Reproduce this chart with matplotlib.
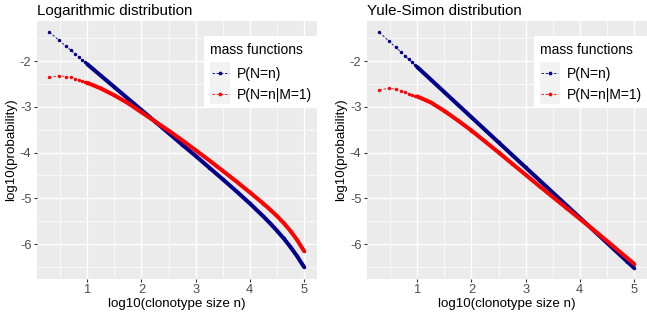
import matplotlib
matplotlib.use("Agg")
import matplotlib.pyplot as plt
from matplotlib.patches import Rectangle
from matplotlib.lines import Line2D

plt.rcParams['font.family'] = ['Liberation Sans', 'DejaVu Sans']

# ---- data ----
log10_n = [0.301, 0.477, 0.602, 0.699, 0.778, 0.845, 0.903, 0.954, 1.0,
           1.25, 1.5, 1.75, 2.0, 2.25, 2.5, 2.75, 3.0, 3.25, 3.5, 3.75,
           4.0, 4.25, 4.375, 4.5, 4.625, 4.75, 4.875, 5.0]

log_blue = [-1.371, -1.547, -1.672, -1.769, -1.848, -1.915, -1.973, -2.024, -2.07,
            -2.32, -2.57, -2.821, -3.071, -3.323, -3.574, -3.827, -4.074, -4.328,
            -4.584, -4.844, -5.113, -5.396, -5.547, -5.706, -5.876, -6.062, -6.268, -6.50]
log_red = [-2.36, -2.32, -2.34, -2.36, -2.385, -2.41, -2.435, -2.455, -2.475,
           -2.60, -2.75, -2.92, -3.12, -3.32, -3.52, -3.73, -3.95, -4.17,
           -4.40, -4.63, -4.87, -5.116, -5.247, -5.386, -5.54, -5.712, -5.913, -6.15]

yule_blue = [-1.375, -1.565, -1.700, -1.806, -1.892, -1.965, -2.028, -2.084, -2.133,
             -2.406, -2.681, -2.955, -3.229, -3.503, -3.778, -4.052, -4.326, -4.600,
             -4.875, -5.149, -5.423, -5.697, -5.834, -5.972, -6.109, -6.246, -6.383, -6.52]
yule_red = [-2.632, -2.595, -2.617, -2.654, -2.682, -2.715, -2.737, -2.757, -2.775,
            -2.906, -3.091, -3.30, -3.519, -3.758, -3.998, -4.242, -4.486, -4.73,
            -4.97, -5.209, -5.448, -5.687, -5.809, -5.932, -6.056, -6.181, -6.305, -6.43]

titles = ["Logarithmic distribution", "Yule-Simon distribution"]
legend_title = "mass functions"
legend_labels = ["P(N=n)", "P(N=n|M=1)"]
x_ticks = [1, 2, 3, 4, 5]
y_ticks = [-6, -5, -4, -3, -2]

BLUE = "#00008B"
RED = "#FF0000"
W, H = 647, 318

fig = plt.figure(figsize=(W / 100, H / 100), dpi=100)


def fig_box(l, t, r, b):
    return [l / W, 1 - b / H, (r - l) / W, (b - t) / H]


def draw_series(ax, x, y, color):
    ax.plot(x, y, ls=(0, (3, 2)), lw=0.6, color=color, zorder=3)
    ax.plot(x, y, ls='none', marker='o', ms=2.5, mew=0, color=color, zorder=3)
    dense = [i for i, v in enumerate(x) if v >= 1.0]
    ax.plot([x[i] for i in dense], [y[i] for i in dense], lw=2.9,
            color=color, solid_capstyle='round', solid_joinstyle='round', zorder=3)


def draw_legend(x0):
    tr = fig.transFigure

    def fx(px):
        return px / W

    def fy(py):
        return 1 - py / H

    fig.patches.append(Rectangle((fx(x0), fy(107)), 113 / W, 71 / H,
                                 transform=tr, facecolor='white', edgecolor='none', zorder=5))
    fig.text(fx(x0 + 6.5), fy(54), legend_title, fontsize=10, color='black',
             ha='left', va='baseline', zorder=6)
    for k, (lab, col) in enumerate(zip(legend_labels, [BLUE, RED])):
        top = 62 + 21 * k
        fig.patches.append(Rectangle((fx(x0 + 6), fy(top + 21)), 20 / W, 21 / H,
                                     transform=tr, facecolor='#F2F2F2', edgecolor='none', zorder=6))
        yc = fy(top + 10.5)
        fig.lines.append(Line2D([fx(x0 + 7.5), fx(x0 + 24.5)], [yc, yc], transform=tr,
                                color=col, lw=0.6, ls=(0, (3, 2)), zorder=7))
        fig.lines.append(Line2D([fx(x0 + 16)], [yc], transform=tr, color=col,
                                marker='o', ms=2.7, mew=0, ls='none', zorder=7))
        fig.text(fx(x0 + 33.3), yc, lab, fontsize=10, color='black',
                 ha='left', va='center_baseline', zorder=7)


panels = [
    (36.7, 316.7, log_blue, log_red, 204),
    (366.7, 646.7, yule_blue, yule_red, 533.5),
]

for idx, (l, r, yb, yr, lx) in enumerate(panels):
    ax = fig.add_axes(fig_box(l, 20.7, r, 279))
    ax.set_facecolor('#EBEBEB')
    for s in ax.spines.values():
        s.set_visible(False)
    ax.set_xlim(0.066, 5.235)
    ax.set_ylim(-6.764, -1.119)
    ax.set_xticks(x_ticks)
    ax.set_yticks(y_ticks)
    ax.set_xticklabels([str(v) for v in x_ticks])
    ax.set_yticklabels([str(v) for v in y_ticks])
    ax.set_xticks([0.5, 1.5, 2.5, 3.5, 4.5], minor=True)
    ax.set_yticks([-6.5, -5.5, -4.5, -3.5, -2.5, -1.5], minor=True)
    ax.grid(which='major', color='white', lw=1.0)
    ax.grid(which='minor', color='white', lw=0.5)
    ax.tick_params(which='minor', length=0)
    ax.tick_params(which='major', length=2.3, width=0.8, color='#333333',
                   labelsize=9.3, labelcolor='#4D4D4D', pad=1.5)
    ax.set_axisbelow(True)
    draw_series(ax, log10_n, yb, BLUE)
    draw_series(ax, log10_n, yr, RED)
    ax.set_xlabel("log10(clonotype size n)", fontsize=9.6, labelpad=1.5)
    ax.set_ylabel("log10(probability)", fontsize=9.6, labelpad=2)
    ax.set_title(titles[idx], fontsize=10.9, loc='left', pad=4)
    draw_legend(lx)

fig.savefig("out.png", dpi=100)
